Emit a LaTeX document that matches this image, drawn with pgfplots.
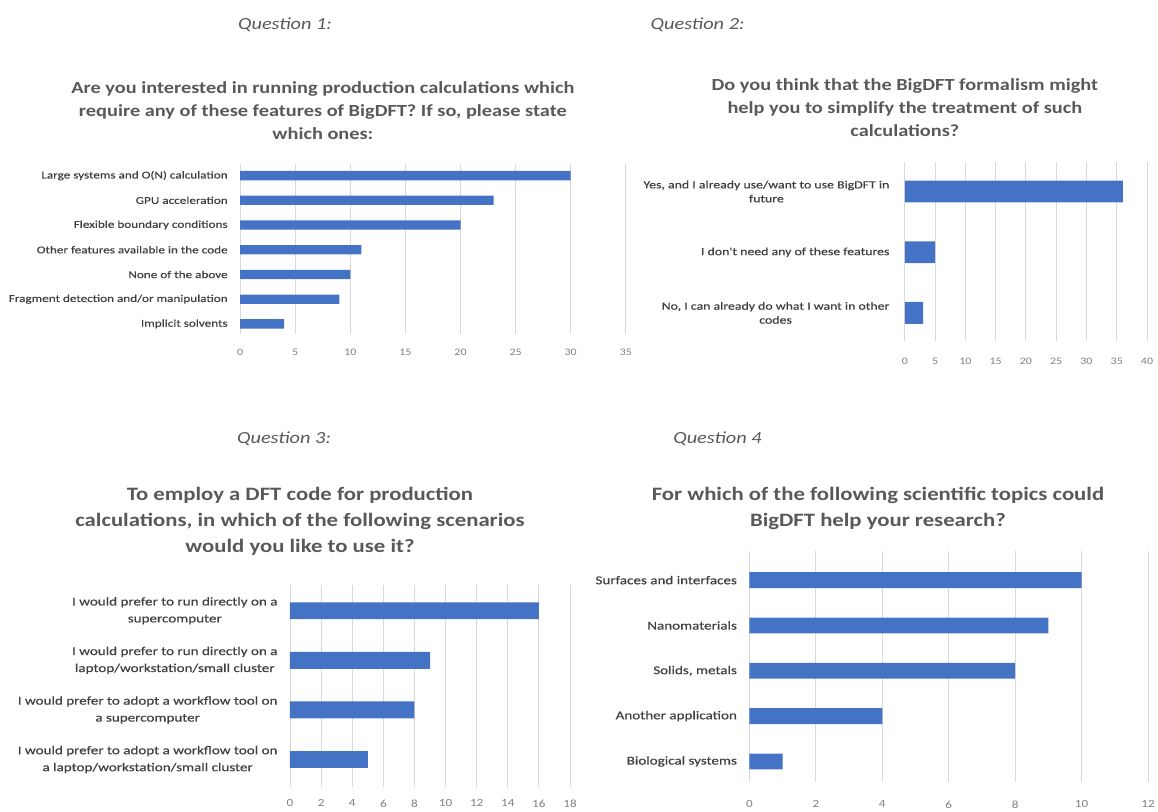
\documentclass[border=0pt]{standalone}
\usepackage{pgfplots}
\pgfplotsset{compat=1.18}
\usepackage{fontspec}
\setmainfont{Carlito}
\newfontfamily\lblfont[FakeStretch=1.26, FakeBold=0.5]{Carlito}
\newfontfamily\ttlfont[FakeStretch=1.2]{Carlito}
\newfontfamily\numfont[FakeStretch=1.2]{Carlito}
\definecolor{barblue}{RGB}{68,114,196}
\definecolor{gridgray}{RGB}{217,217,217}
\definecolor{lblgray}{RGB}{64,64,64}
\definecolor{tickgray}{RGB}{128,128,128}
\definecolor{titlegray}{RGB}{89,89,89}
\pgfplotsset{
  surv/.style={
    scale only axis, anchor=north west, y dir=reverse,
    axis line style={draw=none}, major tick length=0pt,
    xmajorgrids, ymajorgrids=false, grid style={draw=gridgray, line width=0.9pt},
    /pgf/number format/assume math mode=true,
    xticklabel style={text=tickgray},
    yticklabel style={text=lblgray, align=center, xshift=-9pt},
    clip=false,
  },
  survbar/.style={xbar, fill=barblue, draw=none},
}
\begin{document}
\begin{tikzpicture}[x=1pt,y=1pt]
\path (0,0) rectangle (1158,-813);
% Subheadings
\node[text=titlegray, font=\ttlfont\fontsize{17}{20}\selectfont\itshape] at (286,-25) {Question 1:};
\node[text=titlegray, font=\ttlfont\fontsize{17}{20}\selectfont\itshape] at (700,-25) {Question 2:};
\node[text=titlegray, font=\ttlfont\fontsize{17}{20}\selectfont\itshape] at (285,-440) {Question 3:};
\node[text=titlegray, font=\ttlfont\fontsize{17}{20}\selectfont\itshape] at (720,-440) {Question 4};
% Titles
\node[text=titlegray, align=center, font=\ttlfont\fontsize{17}{23.5}\selectfont\bfseries] at (324,-111)
 {Are you interested in running production calculations which\\require any of these features of BigDFT? If so, please state\\which ones:};
\node[text=titlegray, align=center, font=\ttlfont\fontsize{17}{23.5}\selectfont\bfseries] at (908,-108)
 {Do you think that the BigDFT formalism might\\help you to simplify the treatment of such\\calculations?};
\node[text=titlegray, align=center, font=\ttlfont\fontsize{19}{26}\selectfont\bfseries] at (301,-523)
 {To employ a DFT code for production\\calculations, in which of the following scenarios\\would you like to use it?};
\node[text=titlegray, align=center, font=\ttlfont\fontsize{19}{26}\selectfont\bfseries] at (881,-510)
 {For which of the following scientific topics could\\BigDFT help your research?};

% Q1
\begin{axis}[surv, at={(241pt,-165pt)}, width=387pt, height=170pt,
  xmin=0, xmax=35, xtick={0,5,...,35},
  ymin=-0.45, ymax=6.4, ytick={0,...,6}, bar width=0.38,
  xticklabel style={font=\numfont\fontsize{10}{11}\selectfont, yshift=-12pt},
  yticklabel style={font=\lblfont\fontsize{10.5}{11}\selectfont},
  yticklabels={{Large systems and O(N) calculation},{GPU acceleration},{Flexible boundary conditions},{Other features available in the code},{None of the above},{Fragment detection and/or manipulation},{Implicit solvents}}]
\addplot[survbar] coordinates {(30,0) (23,1) (20,2) (11,3) (10,4) (9,5) (4,6)};
\end{axis}

% Q2
\begin{axis}[surv, at={(908pt,-163pt)}, width=243pt, height=179pt,
  xmin=0, xmax=40, xtick={0,5,...,40},
  ymin=-0.48, ymax=2.46, ytick={0,1,2}, bar width=0.36,
  xticklabel style={font=\numfont\fontsize{10}{11}\selectfont, yshift=-14pt},
  yticklabel style={font=\lblfont\fontsize{11}{14}\selectfont, xshift=-3pt},
  yticklabels={{Yes, and I already use/want to use BigDFT in\\future},{I don't need any of these features},{No, I can already do what I want in other\\codes}}]
\addplot[survbar] coordinates {(36,0) (5,1) (3,2)};
\end{axis}

% Q3
\begin{axis}[surv, at={(291pt,-587pt)}, width=281pt, height=203pt,
  xmin=0, xmax=18, xtick={0,2,...,18},
  ymin=-0.52, ymax=3.56, ytick={0,1,2,3}, bar width=0.34,
  xticklabel style={font=\numfont\fontsize{11}{13}\selectfont, yshift=-9pt},
  yticklabel style={font=\lblfont\fontsize{12}{17}\selectfont},
  yticklabels={{I would prefer to run directly on a\\supercomputer},{I would prefer to run directly on a\\laptop/workstation/small cluster},{I would prefer to adopt a workflow tool on\\a supercomputer},{I would prefer to adopt a workflow tool on\\a laptop/workstation/small cluster}}]
\addplot[survbar] coordinates {(16,0) (9,1) (8,2) (5,3)};
\end{axis}

% Q4
\begin{axis}[surv, at={(752pt,-553pt)}, width=400pt, height=232pt,
  xmin=0, xmax=12, xtick={0,2,...,12},
  ymin=-0.64, ymax=4.46, ytick={0,...,4}, bar width=0.35,
  xticklabel style={font=\numfont\fontsize{11}{13}\selectfont, yshift=-15pt},
  yticklabel style={font=\lblfont\fontsize{12}{13}\selectfont},
  yticklabels={{Surfaces and interfaces},{Nanomaterials},{Solids, metals},{Another application},{Biological systems}}]
\addplot[survbar] coordinates {(10,0) (9,1) (8,2) (4,3) (1,4)};
\end{axis}
\end{tikzpicture}
\end{document}
